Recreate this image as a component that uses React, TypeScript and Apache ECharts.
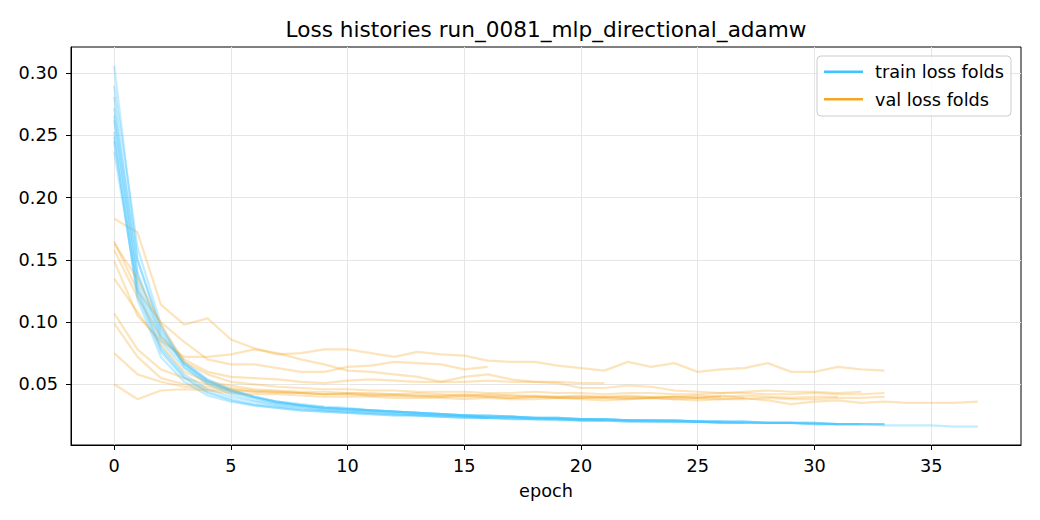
import React, { useEffect, useRef } from "react";
import * as echarts from "echarts";

// ---- tick labels ----
const xTicks = [0, 5, 10, 15, 20, 25, 30, 35];
const yTicks = [0.05, 0.1, 0.15, 0.2, 0.25, 0.3];

// ---- train loss per fold (index = epoch) ----
const train1 = [0.306, 0.150, 0.095, 0.068, 0.054, 0.046, 0.040, 0.036, 0.034, 0.032, 0.031, 0.029, 0.028, 0.027, 0.026, 0.025, 0.025, 0.024, 0.023, 0.023, 0.022, 0.022, 0.021, 0.021, 0.021, 0.020, 0.020, 0.020, 0.019, 0.019, 0.019, 0.018, 0.018, 0.018];
const train2 = [0.290, 0.160, 0.098, 0.064, 0.050, 0.042, 0.037, 0.034, 0.032, 0.030, 0.029, 0.028, 0.027, 0.026, 0.025, 0.024, 0.023];
const train3 = [0.281, 0.138, 0.088, 0.066, 0.053, 0.045, 0.040, 0.036, 0.033, 0.031, 0.030, 0.029, 0.028, 0.027, 0.026, 0.025, 0.024, 0.024, 0.023, 0.022, 0.022, 0.021, 0.021, 0.021, 0.020, 0.020, 0.020, 0.019, 0.019, 0.019, 0.018, 0.018, 0.018];
const train4 = [0.266, 0.128, 0.080, 0.058, 0.046, 0.040, 0.036, 0.033, 0.031, 0.029, 0.028, 0.027, 0.026, 0.025, 0.025, 0.024, 0.023, 0.023, 0.022, 0.022, 0.021, 0.021];
const train5 = [0.253, 0.132, 0.085, 0.063, 0.051, 0.044, 0.039, 0.035, 0.033, 0.031, 0.030, 0.029, 0.028, 0.027, 0.026, 0.025, 0.024, 0.024, 0.023, 0.023, 0.022, 0.022, 0.021, 0.021, 0.021, 0.020, 0.020];
const train6 = [0.249, 0.118, 0.072, 0.052, 0.041, 0.036, 0.033, 0.031, 0.029, 0.028, 0.027, 0.026, 0.025, 0.025, 0.024, 0.023, 0.023, 0.022, 0.022, 0.022, 0.021, 0.021, 0.020, 0.020, 0.020, 0.020, 0.019, 0.019];
const train7 = [0.237, 0.125, 0.078, 0.056, 0.044, 0.038, 0.034, 0.032, 0.030, 0.029, 0.028, 0.027, 0.026, 0.025, 0.024, 0.024, 0.023, 0.023, 0.022, 0.022, 0.021, 0.021, 0.021, 0.020, 0.020, 0.020, 0.019, 0.019, 0.019, 0.019, 0.018, 0.018];
const train8 = [0.262, 0.140, 0.090, 0.067, 0.053, 0.045, 0.040, 0.036, 0.033, 0.031, 0.030, 0.029, 0.028, 0.027, 0.026, 0.025, 0.024, 0.024, 0.023, 0.023, 0.022, 0.022, 0.021, 0.021, 0.021, 0.020, 0.020, 0.020, 0.019, 0.019, 0.019, 0.018, 0.018, 0.018];
const train9 = [0.245, 0.122, 0.076, 0.055, 0.043, 0.037, 0.033, 0.031, 0.029, 0.028, 0.027, 0.026, 0.025, 0.025, 0.024, 0.023, 0.023, 0.022, 0.022, 0.021, 0.021, 0.021, 0.020, 0.020, 0.020, 0.020, 0.019, 0.019, 0.019, 0.019, 0.018, 0.018, 0.018, 0.017, 0.017, 0.017, 0.016, 0.016];
const train10 = [0.272, 0.150, 0.093, 0.066, 0.052, 0.044, 0.039, 0.035, 0.033, 0.031, 0.030, 0.029, 0.028, 0.027, 0.026, 0.025, 0.025, 0.024, 0.023, 0.023, 0.022, 0.022, 0.021, 0.021, 0.021, 0.020, 0.020, 0.020, 0.019, 0.019, 0.019, 0.018, 0.018, 0.018];

// ---- val loss per fold (index = epoch) ----
const val1 = [0.183, 0.172, 0.114, 0.098, 0.103, 0.086, 0.079, 0.074, 0.075, 0.078, 0.078, 0.075, 0.072, 0.076, 0.074, 0.073, 0.069, 0.068, 0.068, 0.065, 0.063, 0.061, 0.068, 0.064, 0.067, 0.060, 0.062, 0.063, 0.067, 0.060, 0.060, 0.064, 0.062, 0.061];
const val2 = [0.165, 0.125, 0.100, 0.084, 0.070, 0.066, 0.066, 0.063, 0.060, 0.060, 0.064, 0.065, 0.068, 0.067, 0.066, 0.062, 0.064];
const val3 = [0.149, 0.105, 0.085, 0.072, 0.072, 0.074, 0.078, 0.075, 0.070, 0.066, 0.061, 0.060, 0.058, 0.056, 0.052, 0.056, 0.058, 0.054, 0.052, 0.051, 0.047, 0.047, 0.049, 0.048, 0.045, 0.044, 0.043, 0.044, 0.045, 0.044, 0.044, 0.043, 0.044];
const val4 = [0.158, 0.120, 0.088, 0.070, 0.060, 0.056, 0.055, 0.054, 0.052, 0.051, 0.053, 0.054, 0.053, 0.052, 0.052, 0.052, 0.053, 0.052, 0.052, 0.052, 0.051, 0.051];
const val5 = [0.135, 0.108, 0.082, 0.060, 0.052, 0.049, 0.046, 0.045, 0.044, 0.044, 0.043, 0.043, 0.042, 0.043, 0.042, 0.041, 0.042, 0.041, 0.041, 0.040, 0.041, 0.040, 0.041, 0.040, 0.040, 0.041, 0.040];
const val6 = [0.107, 0.078, 0.062, 0.055, 0.050, 0.047, 0.045, 0.044, 0.043, 0.042, 0.042, 0.041, 0.041, 0.040, 0.040, 0.041, 0.040, 0.039, 0.040, 0.039, 0.039, 0.040, 0.039, 0.039, 0.040, 0.039, 0.041, 0.039];
const val7 = [0.099, 0.072, 0.055, 0.050, 0.048, 0.046, 0.044, 0.044, 0.043, 0.042, 0.043, 0.042, 0.042, 0.041, 0.041, 0.042, 0.041, 0.041, 0.040, 0.040, 0.040, 0.039, 0.040, 0.039, 0.040, 0.039, 0.040, 0.041, 0.040, 0.039, 0.040, 0.040];
const val8 = [0.075, 0.058, 0.052, 0.048, 0.046, 0.045, 0.044, 0.043, 0.043, 0.042, 0.042, 0.041, 0.041, 0.041, 0.040, 0.040, 0.040, 0.039, 0.040, 0.039, 0.039, 0.039, 0.038, 0.039, 0.038, 0.039, 0.038, 0.038, 0.039, 0.038, 0.038, 0.039, 0.039, 0.040];
const val9 = [0.050, 0.038, 0.045, 0.046, 0.045, 0.043, 0.042, 0.042, 0.041, 0.040, 0.040, 0.040, 0.039, 0.039, 0.039, 0.038, 0.039, 0.038, 0.038, 0.039, 0.038, 0.037, 0.038, 0.039, 0.038, 0.037, 0.038, 0.039, 0.037, 0.034, 0.036, 0.037, 0.035, 0.036, 0.035, 0.035, 0.035, 0.036];
const val10 = [0.163, 0.135, 0.098, 0.068, 0.058, 0.052, 0.050, 0.048, 0.047, 0.046, 0.046, 0.045, 0.045, 0.044, 0.044, 0.044, 0.043, 0.043, 0.044, 0.043, 0.043, 0.042, 0.043, 0.043, 0.042, 0.042, 0.043, 0.043, 0.042, 0.042, 0.043, 0.042, 0.042, 0.043];

const trainFolds = [train1, train2, train3, train4, train5, train6, train7, train8, train9, train10];
const valFolds = [val1, val2, val3, val4, val5, val6, val7, val8, val9, val10];

const TRAIN_COLOR = "#40C4FF";
const VAL_COLOR = "#F5A623";
const FONT = "DejaVu Sans";
const FS = 17.7;

export default function App() {
  const ref = useRef<HTMLDivElement>(null);

  useEffect(() => {
    if (!ref.current) return;
    const chart = echarts.init(ref.current, undefined, { renderer: "svg" });

    const series: any[] = [];
    trainFolds.forEach((tr, k) => {
      series.push({
        type: "line",
        name: "train fold " + (k + 1),
        data: tr.map((v, i) => [i, v]),
        showSymbol: false,
        symbol: "none",
        lineStyle: { color: TRAIN_COLOR, width: 2.2, opacity: 0.32 },
        itemStyle: { color: TRAIN_COLOR },
        silent: true,
        z: 2,
      });
      series.push({
        type: "line",
        name: "val fold " + (k + 1),
        data: valFolds[k].map((v, i) => [i, v]),
        showSymbol: false,
        symbol: "none",
        lineStyle: { color: VAL_COLOR, width: 2.2, opacity: 0.3 },
        itemStyle: { color: VAL_COLOR },
        silent: true,
        z: 2,
      });
    });

    const option: any = {
      animation: false,
      backgroundColor: "#ffffff",
      grid: {
        left: 71,
        right: 19,
        top: 47,
        bottom: 75,
        show: true,
        borderColor: "#000000",
        borderWidth: 1,
        backgroundColor: "transparent",
      },
      xAxis: {
        type: "value",
        min: -1.85,
        max: 38.85,
        name: "epoch",
        nameLocation: "middle",
        nameGap: 37,
        nameTextStyle: { fontFamily: FONT, fontSize: FS, color: "#000" },
        axisLine: { show: true, onZero: false, lineStyle: { color: "#000", width: 1 } },
        axisTick: { show: true, length: 5, lineStyle: { color: "#000" }, customValues: xTicks },
        axisLabel: {
          customValues: xTicks,
          margin: 12,
          fontFamily: FONT,
          fontSize: FS,
          color: "#000",
          formatter: (v: number) => String(v),
        },
        splitLine: { show: true, lineStyle: { color: "#e6e6e6", width: 1 } },
      },
      yAxis: {
        type: "value",
        min: 0.0012,
        max: 0.3211,
        axisLine: { show: true, onZero: false, lineStyle: { color: "#000", width: 1 } },
        axisTick: { show: true, length: 5, lineStyle: { color: "#000" }, customValues: yTicks },
        axisLabel: {
          customValues: yTicks,
          margin: 13,
          fontFamily: FONT,
          fontSize: FS,
          color: "#000",
          formatter: (v: number) => v.toFixed(2),
        },
        splitLine: { show: true, lineStyle: { color: "#e6e6e6", width: 1 } },
      },
      series,
      graphic: [
        {
          type: "text",
          x: 546,
          y: 29.5,
          z: 100,
          style: {
            text: "Loss histories run_0081_mlp_directional_adamw",
            fontFamily: FONT,
            fontSize: 21.6,
            fill: "#000",
            align: "center",
            verticalAlign: "middle",
          },
        },
        {
          type: "rect",
          z: 100,
          shape: { x: 817, y: 56, width: 194, height: 60, r: 4 },
          style: { fill: "rgba(255,255,255,0.8)", stroke: "#cccccc", lineWidth: 1 },
        },
        {
          type: "line",
          z: 101,
          shape: { x1: 824, y1: 71.7, x2: 863, y2: 71.7 },
          style: { stroke: TRAIN_COLOR, lineWidth: 2.4 },
        },
        {
          type: "line",
          z: 101,
          shape: { x1: 824, y1: 99.3, x2: 863, y2: 99.3 },
          style: { stroke: VAL_COLOR, lineWidth: 2.4 },
        },
        {
          type: "text",
          x: 875,
          y: 72,
          z: 101,
          style: {
            text: "train loss folds",
            fontFamily: FONT,
            fontSize: FS,
            fill: "#000",
            align: "left",
            verticalAlign: "middle",
          },
        },
        {
          type: "text",
          x: 875,
          y: 100,
          z: 101,
          style: {
            text: "val loss folds",
            fontFamily: FONT,
            fontSize: FS,
            fill: "#000",
            align: "left",
            verticalAlign: "middle",
          },
        },
      ],
    };

    chart.setOption(option);
    return () => {
      chart.dispose();
    };
  }, []);

  return (
    <div
      ref={ref}
      style={{ position: "fixed", left: 0, top: 0, width: 1040, height: 520, background: "#fff" }}
    />
  );
}
